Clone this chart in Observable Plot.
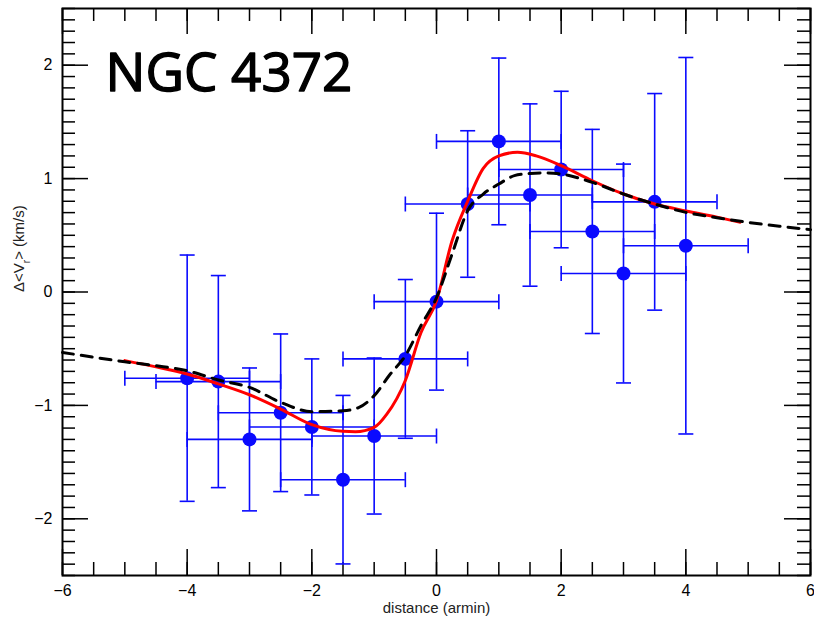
<!DOCTYPE html>
<html>
<head>
<meta charset="utf-8">
<script src="https://cdn.jsdelivr.net/npm/d3@7"></script>
<script src="https://cdn.jsdelivr.net/npm/@observablehq/plot@0.6"></script>
<style>
  html, body { margin: 0; padding: 0; background: #fff; }
</style>
</head>
<body>
<div id="chart"></div>
<script>
// ---- data ----
const ptX   = [-4, -3.5, -3, -2.5, -2, -1.5, -1, -0.5, 0, 0.5, 1, 1.5, 2, 2.5, 3, 3.5, 4];
const ptY   = [-0.76, -0.79, -1.30, -1.065, -1.19, -1.655, -1.27, -0.59, -0.085, 0.776, 1.328, 0.855, 1.08, 0.534, 0.163, 0.795, 0.408];
const ptYErr = [1.086, 0.935, 0.63, 0.695, 0.60, 0.743, 0.688, 0.70, 0.78, 0.646, 0.735, 0.804, 0.69, 0.90, 0.965, 0.955, 1.66];
const ptXErr = [1, 1, 1, 1, 1, 1, 1, 1, 1, 1, 1, 1, 1, 1, 1, 1, 1];

const redX = [-5, -4.5, -4, -3.5, -3, -2.5, -2, -1.5, -1.3, -1, -0.8, -0.5, -0.25, 0, 0.25, 0.5, 0.75, 1, 1.3, 1.6, 2, 2.5, 3, 3.5, 4, 4.5, 4.87];
const redY = [-0.605, -0.66, -0.723, -0.81, -0.906, -1.032, -1.17, -1.229, -1.232, -1.194, -1.08, -0.78, -0.36, -0.077, 0.452, 0.80, 1.09, 1.20, 1.232, 1.20, 1.114, 0.981, 0.864, 0.776, 0.715, 0.66, 0.615];

const blkX = [-6, -5.5, -5, -4.5, -4, -3.5, -3, -2.5, -2, -1.5, -1.25, -1, -0.75, -0.5, -0.25, 0, 0.25, 0.5, 0.75, 1, 1.25, 1.5, 1.75, 2, 2.5, 3, 3.5, 4, 4.5, 5, 5.5, 6];
const blkY = [-0.533, -0.575, -0.615, -0.65, -0.694, -0.776, -0.841, -0.973, -1.055, -1.047, -1.02, -0.914, -0.73, -0.562, -0.297, -0.05, 0.335, 0.717, 0.864, 0.952, 1.026, 1.045, 1.05, 1.04, 0.967, 0.864, 0.776, 0.702, 0.655, 0.614, 0.58, 0.55];

const xTicks = [-6, -4, -2, 0, 2, 4, 6];
const yTicks = [-2, -1, 0, 1, 2];
const titleText = ["NGC 4372"];
const xTitle = ["distance (armin)"];
const yTitle = ["Δ<Vr> (km/s)"];

// ---- derived tables ----
const points = ptX.map((x, i) => ({x, y: ptY[i], ylo: ptY[i] - ptYErr[i], yhi: ptY[i] + ptYErr[i], xlo: x - ptXErr[i], xhi: x + ptXErr[i]}));
const red = redX.map((x, i) => ({x, y: redY[i]}));
const blk = blkX.map((x, i) => ({x, y: blkY[i]}));
const xMinor = d3.range(-6, 6.001, 0.5).map(v => +v.toFixed(2));
const yMinor = d3.range(-2.5, 2.5001, 0.1).map(v => +v.toFixed(2));

const W = 814, H = 622, mL = 62, mR = 4, mT = 8, mB = 47;
const FW = W - mL - mR, FH = H - mT - mB;
const MAJ = 26, MIN = 13;

const hCap = {draw(ctx, size) { const r = Math.sqrt(size / Math.PI); ctx.moveTo(-r, 0); ctx.lineTo(r, 0); }};
const vCap = {draw(ctx, size) { const r = Math.sqrt(size / Math.PI); ctx.moveTo(0, -r); ctx.lineTo(0, r); }};

const blue = "#0a0aff";
const tickStyle = {stroke: "black", strokeWidth: 1.5};
const fmt = d3.format("d");

const plot = Plot.plot({
  width: W, height: H,
  marginLeft: mL, marginRight: mR, marginTop: mT, marginBottom: mB,
  style: {fontFamily: "'Liberation Sans', Arial, sans-serif", fontSize: "16px", background: "white", color: "black"},
  x: {domain: [-6, 6]},
  y: {domain: [-2.5, 2.5]},
  marks: [
    // inward ticks
    Plot.tickX(xMinor, {x: d => d, insetTop: FH - MIN, ...tickStyle}),
    Plot.tickX(xMinor, {x: d => d, insetBottom: FH - MIN, ...tickStyle}),
    Plot.tickX(xTicks, {x: d => d, insetTop: FH - MAJ, ...tickStyle}),
    Plot.tickX(xTicks, {x: d => d, insetBottom: FH - MAJ, ...tickStyle}),
    Plot.tickY(yMinor, {y: d => d, insetRight: FW - MIN, ...tickStyle}),
    Plot.tickY(yMinor, {y: d => d, insetLeft: FW - MIN, ...tickStyle}),
    Plot.tickY(yTicks, {y: d => d, insetRight: FW - MAJ, ...tickStyle}),
    Plot.tickY(yTicks, {y: d => d, insetLeft: FW - MAJ, ...tickStyle}),
    Plot.axisX({ticks: xTicks, tickSize: 0, tickPadding: 9, tickFormat: fmt, label: null, fontSize: 16}),
    Plot.axisY({ticks: yTicks, tickSize: 0, tickPadding: 10, tickFormat: fmt, label: null, fontSize: 16}),
    // error bars
    Plot.ruleX(points, {x: "x", y1: "ylo", y2: "yhi", stroke: blue, strokeWidth: 1.6}),
    Plot.ruleY(points, {y: "y", x1: "xlo", x2: "xhi", stroke: blue, strokeWidth: 1.6}),
    Plot.dot(points, {x: "x", y: "ylo", symbol: hCap, r: 7.5, stroke: blue, fill: "none", strokeWidth: 1.6}),
    Plot.dot(points, {x: "x", y: "yhi", symbol: hCap, r: 7.5, stroke: blue, fill: "none", strokeWidth: 1.6}),
    Plot.dot(points, {x: "xlo", y: "y", symbol: vCap, r: 7.5, stroke: blue, fill: "none", strokeWidth: 1.6}),
    Plot.dot(points, {x: "xhi", y: "y", symbol: vCap, r: 7.5, stroke: blue, fill: "none", strokeWidth: 1.6}),
    // points
    Plot.dot(points, {x: "x", y: "y", r: 7, fill: blue, stroke: "none"}),
    // model curves
    Plot.line(red, {x: "x", y: "y", stroke: "#ff0000", strokeWidth: 3, curve: "monotone-x"}),
    Plot.line(blk, {x: "x", y: "y", stroke: "black", strokeWidth: 3, strokeDasharray: "11,8", curve: "monotone-x"}),
    Plot.frame({stroke: "black", strokeWidth: 2}),
    // texts
    Plot.text(titleText, {text: d => d, frameAnchor: "top-left", textAnchor: "start", lineAnchor: "bottom", dx: 43, dy: 82, fontSize: 53, fontFamily: "'Open Sans', 'Noto Sans', sans-serif", fill: "black", stroke: "black", strokeWidth: 1.4}),
    Plot.text(xTitle, {text: d => d, frameAnchor: "bottom", lineAnchor: "middle", dy: 33, fontSize: 15, fill: "#222"}),
    Plot.text(yTitle, {text: d => d, frameAnchor: "left", lineAnchor: "middle", dx: -43, rotate: -90, fontSize: 15, fill: "#222"})
  ]
});

// subscript r in the y-axis title
d3.select(plot).selectAll("text").filter(function() { return this.textContent === yTitle[0]; }).each(function() {
  const t = d3.select(this);
  t.text(null);
  t.append("tspan").text("Δ<V");
  t.append("tspan").attr("baseline-shift", "sub").attr("font-size", 10).text("r");
  t.append("tspan").text("> (km/s)");
});

document.getElementById("chart").appendChild(plot);
</script>
</body>
</html>
